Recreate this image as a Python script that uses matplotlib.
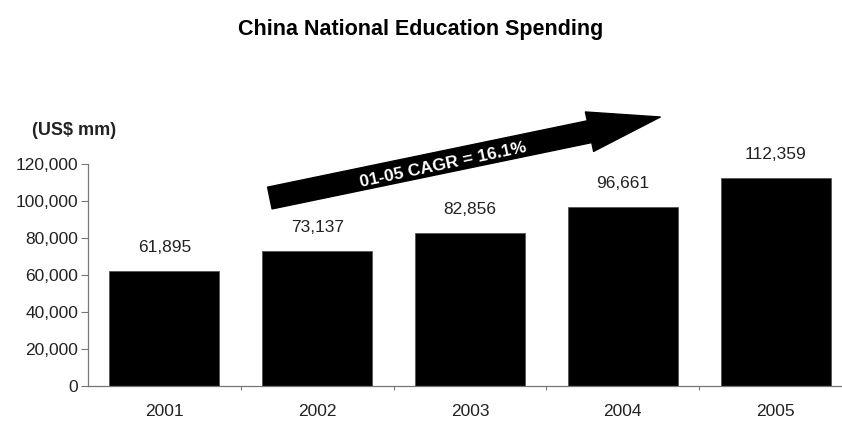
import matplotlib
matplotlib.use("Agg")
import matplotlib.pyplot as plt
from matplotlib.ticker import FuncFormatter, FixedLocator

years = ["2001", "2002", "2003", "2004", "2005"]
spending = [61895, 73137, 82856, 96661, 112359]
y_ticks = [0, 20000, 40000, 60000, 80000, 100000, 120000]
cagr_label = "01-05 CAGR = 16.1%"

plt.rcParams["font.family"] = ["Liberation Sans", "DejaVu Sans"]

figure = plt.figure(figsize=(8.42, 4.21), dpi=100)
axis = figure.add_axes([88 / 842, 35 / 421, 764 / 842, 222 / 421])

positions = list(range(len(years)))
axis.bar(positions, spending, width=0.72, color="black", edgecolor="#555555", linewidth=0.6)

for x, value in zip(positions, spending):
    axis.annotate(
        f"{value:,}",
        xy=(x, value),
        xytext=(0, 17),
        textcoords="offset points",
        ha="center",
        va="center",
        fontsize=12.5,
        color="#222222",
    )

axis.set_xlim(-0.5, len(years) - 0.5)
axis.set_ylim(0, 120000)
axis.set_yticks(y_ticks)
axis.yaxis.set_major_formatter(FuncFormatter(lambda v, _: f"{int(v):,}"))
axis.set_xticks(positions)
axis.set_xticklabels(years)
axis.xaxis.set_minor_locator(FixedLocator([p + 0.5 for p in positions[:-1]]))

axis.tick_params(axis="y", length=5, width=0.8, color="#777777", labelsize=12.5, labelcolor="#222222", pad=2)
axis.tick_params(axis="x", which="major", length=0, labelsize=12.5, labelcolor="#222222", pad=13)
axis.tick_params(axis="x", which="minor", length=3, width=0.8, color="#777777")

for side in ["top", "right"]:
    axis.spines[side].set_visible(False)
for side in ["left", "bottom"]:
    axis.spines[side].set_color("#777777")
    axis.spines[side].set_linewidth(0.9)

axis.annotate(
    "",
    xy=(3.245, 145400),
    xytext=(0.69, 101600),
    xycoords="data",
    annotation_clip=False,
    arrowprops=dict(
        arrowstyle="simple,tail_width=1.6,head_width=2.9,head_length=5.2",
        mutation_scale=10,
        facecolor="black",
        edgecolor="black",
        shrinkA=0,
        shrinkB=0,
    ),
)
axis.text(
    1.824,
    119460,
    cagr_label,
    rotation=12,
    rotation_mode="anchor",
    ha="center",
    va="center",
    color="white",
    fontsize=12.5,
    fontweight="bold",
    clip_on=False,
)

figure.text(32 / 842, 1 - 131 / 421, "(US$ mm)", ha="left", va="center", fontsize=13, fontweight="bold", color="#222222")
figure.suptitle("China National Education Spending", x=0.5, y=1 - 30 / 421, va="center", fontsize=15.5, fontweight="bold")

figure.savefig("out.png", dpi=100)
